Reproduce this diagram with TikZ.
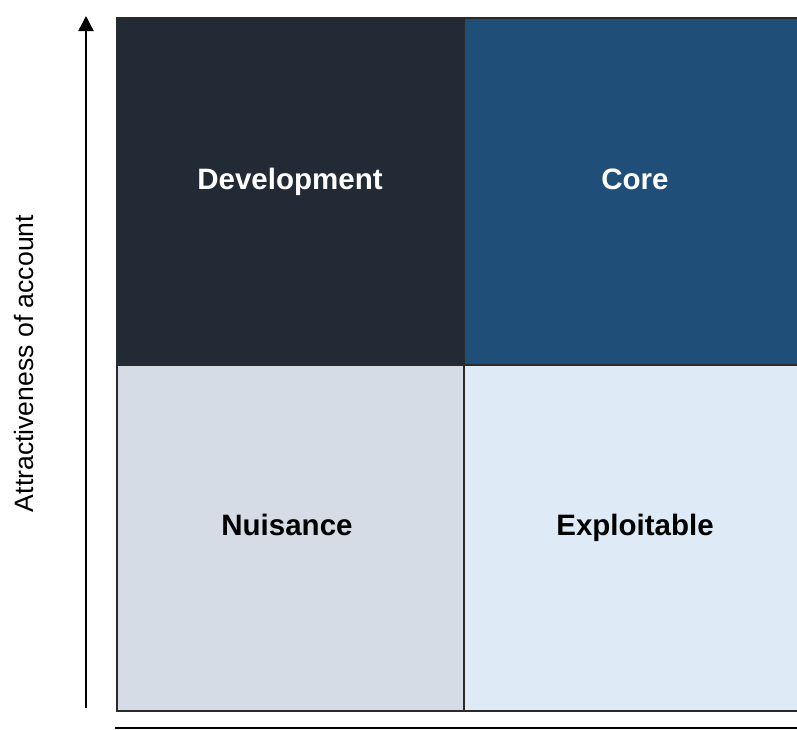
\documentclass[tikz,border=0pt]{standalone}
\usepackage{fontspec}
\setmainfont{Liberation Sans}
\usetikzlibrary{arrows.meta}
\definecolor{devc}{HTML}{222A35}
\definecolor{corec}{HTML}{1F4E79}
\definecolor{nuic}{HTML}{D6DCE5}
\definecolor{expc}{HTML}{DEEBF7}
\definecolor{edgec}{HTML}{2A2A2A}
\tikzset{
  quad/.style={rectangle, inner sep=0pt, draw=edgec, line width=2pt, anchor=north west},
  qlabel/.style={anchor=base, inner sep=0pt, font=\fontsize{29.5}{32}\selectfont\bfseries},
  axis/.style={line width=2.5pt, black, -{Triangle[width=15pt,length=15pt]}},
}
\begin{document}
\begin{tikzpicture}[x=1pt,y=1pt]
\useasboundingbox (0,0) rectangle (797,-729);
\clip (0,0) rectangle (797,-729);
\node[quad, fill=devc, minimum width=347pt, minimum height=346.5pt] (dev) at (115.5,-17) {};
\node[quad, fill=corec, minimum width=346pt, minimum height=346.5pt] (core) at (462.5,-17) {};
\node[quad, fill=nuic, minimum width=347pt, minimum height=346.5pt] (nui) at (115.5,-363.5) {};
\node[quad, fill=expc, minimum width=346pt, minimum height=346.5pt] (exp) at (462.5,-363.5) {};
\node[qlabel, text=white] (devt) at (290,-189) {Development};
\node[qlabel, text=white] (coret) at (635,-189) {Core};
\node[qlabel, text=black] (nuit) at (287,-535.5) {Nuisance};
\node[qlabel, text=black] (expt) at (635,-535.5) {Exploitable};
\coordinate (ya) at (86,-708);
\coordinate (yb) at (86,-16);
\coordinate (xa) at (115,-728);
\coordinate (xb) at (812,-728);
\draw[axis] (ya) -- (yb);
\draw[axis] (xa) -- (xb);
\node[rotate=90, anchor=base, inner sep=0pt, font=\fontsize{26.6}{30}\selectfont] (ylab) at (33,-363.5) {Attractiveness of account};
\end{tikzpicture}
\end{document}
